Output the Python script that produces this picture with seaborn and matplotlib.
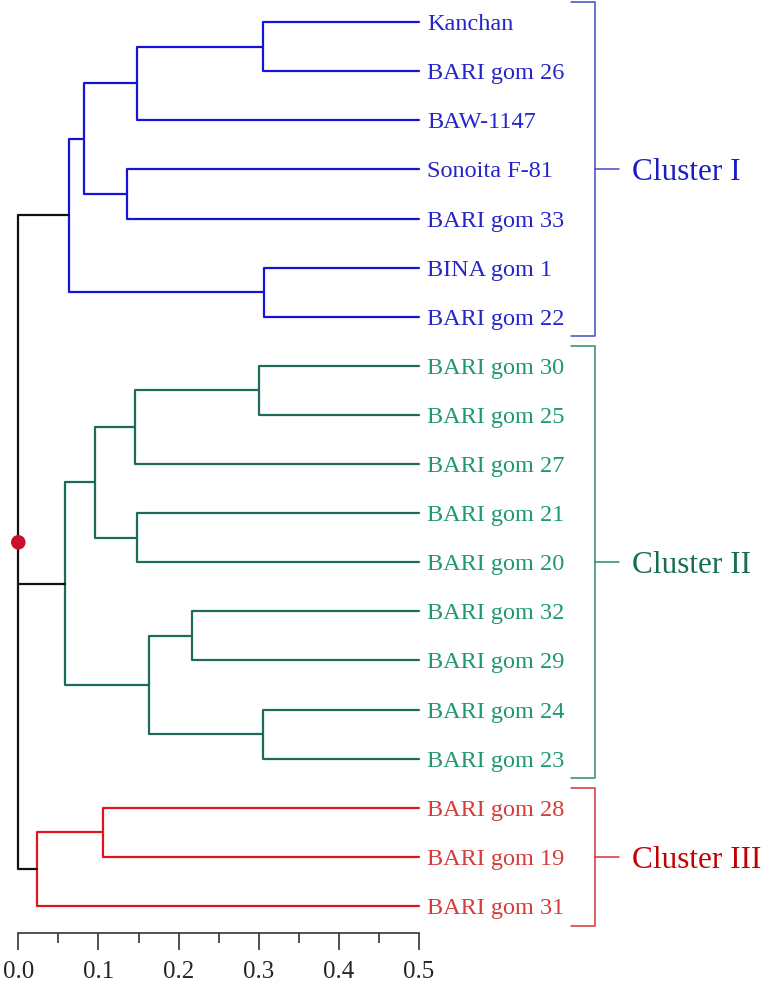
import numpy as np
import pandas as pd
import matplotlib
matplotlib.use("Agg")
import matplotlib.pyplot as plt
import seaborn as sns

# leaves, top to bottom
leaf_labels = ["Kanchan", "BARI gom 26", "BAW-1147", "Sonoita F-81", "BARI gom 33",
               "BINA gom 1", "BARI gom 22",
               "BARI gom 30", "BARI gom 25", "BARI gom 27", "BARI gom 21", "BARI gom 20",
               "BARI gom 32", "BARI gom 29", "BARI gom 24", "BARI gom 23",
               "BARI gom 28", "BARI gom 19", "BARI gom 31"]
leaf_cluster = ["I"] * 7 + ["II"] * 9 + ["III"] * 3

# merges: child node ids (new nodes are numbered from 19) and merge position on x
merge_children = [(0, 1), (19, 2), (3, 4), (20, 21), (5, 6), (22, 23),
                  (7, 8), (25, 9), (10, 11), (26, 27), (12, 13), (14, 15), (29, 30), (28, 31),
                  (16, 17), (33, 18),
                  (24, 32, 34)]
merge_x = [0.305, 0.148, 0.135, 0.082, 0.307, 0.063,
           0.300, 0.146, 0.148, 0.096, 0.217, 0.305, 0.163, 0.058,
           0.106, 0.023,
           0.0]

cluster_ids = ["I", "II", "III"]
cluster_names = ["Cluster I", "Cluster II", "Cluster III"]
leaf_x = 0.5

line_colors = {"I": "#1414d8", "II": "#1d6b5c", "III": "#e0141e", "root": "#111111"}
leaf_colors = {"I": "#2525c8", "II": "#1f9870", "III": "#d83a3a"}
bracket_colors = {"I": "#4848c4", "II": "#2e8a6c", "III": "#d03636"}
name_colors = {"I": "#1c1cc4", "II": "#166f50", "III": "#c40000"}

# build dendrogram segments
n = len(leaf_labels)
node_x = {i: leaf_x for i in range(n)}
node_y = {i: float(i) for i in range(n)}
node_cl = {i: leaf_cluster[i] for i in range(n)}
rows = []
for k, (ch, h) in enumerate(zip(merge_children, merge_x)):
    nid = n + k
    cls = {node_cl[c] for c in ch}
    cl = cls.pop() if len(cls) == 1 else "root"
    chs = sorted(ch, key=lambda c: node_y[c])
    a, b = chs[0], chs[-1]
    path = [(node_x[a], node_y[a]), (h, node_y[a]), (h, node_y[b]), (node_x[b], node_y[b])]
    rows += [dict(x=px, y=py, seg=str(nid), cl=cl) for px, py in path]
    for m in chs[1:-1]:
        rows += [dict(x=node_x[m], y=node_y[m], seg=f"{nid}_{m}", cl=cl),
                 dict(x=h, y=node_y[m], seg=f"{nid}_{m}", cl=cl)]
    node_x[nid] = h
    node_y[nid] = (node_y[a] + node_y[b]) / 2
    node_cl[nid] = cl
seg_df = pd.DataFrame(rows)
root = n + len(merge_children) - 1

sns.set_style("white")
plt.rcParams["font.family"] = ["Liberation Serif", "DejaVu Serif"]

fig = plt.figure(figsize=(7.62, 9.82), dpi=100)
ax = fig.add_axes([0.024, 0.0499, 0.526, 0.9501])

sns.lineplot(data=seg_df, x="x", y="y", hue="cl", units="seg", estimator=None,
             sort=False, palette=line_colors, linewidth=1.6, legend=False,
             clip_on=False, ax=ax)
sns.scatterplot(x=[0.0], y=[node_y[root]], color="#c8102e", s=110, zorder=5,
                edgecolor="none", clip_on=False, ax=ax)

for i, lab in enumerate(leaf_labels):
    ax.text(0.51, i, lab, color=leaf_colors[leaf_cluster[i]], fontsize=17.5,
            va="center_baseline", ha="left", clip_on=False)

for cid, name in zip(cluster_ids, cluster_names):
    idx = [i for i, c in enumerate(leaf_cluster) if c == cid]
    lo, hi = min(idx) - 0.4, max(idx) + 0.4
    mid = (lo + hi) / 2
    col = bracket_colors[cid]
    ax.plot([0.689, 0.719, 0.719, 0.689], [lo, lo, hi, hi], color=col, lw=1.1, clip_on=False)
    ax.plot([0.719, 0.749], [mid, mid], color=col, lw=1.1, clip_on=False)
    ax.text(0.765, mid, name, color=name_colors[cid], fontsize=22.5,
            va="center_baseline", ha="left", clip_on=False)

ax.set_xlim(0, 0.5)
ax.set_ylim(18.55, -0.45)
ax.set_xticks(np.arange(0, 0.51, 0.1))
ax.set_xticks(np.arange(0, 0.51, 0.05), minor=True)
ax.set_xticklabels([f"{v:.1f}" for v in np.arange(0, 0.51, 0.1)])
ax.set_yticks([])
ax.set_xlabel("")
ax.set_ylabel("")
ax.tick_params(axis="x", which="major", direction="out", length=12, width=1.2,
               color="#333333", labelsize=18, pad=8, bottom=True)
ax.tick_params(axis="x", which="minor", direction="out", length=7.5, width=1.2,
               color="#333333", bottom=True)
for s in ["left", "top", "right"]:
    ax.spines[s].set_visible(False)
ax.spines["bottom"].set_color("#333333")
ax.spines["bottom"].set_linewidth(1.2)
ax.patch.set_alpha(0)

fig.savefig("out.png", dpi=100)
